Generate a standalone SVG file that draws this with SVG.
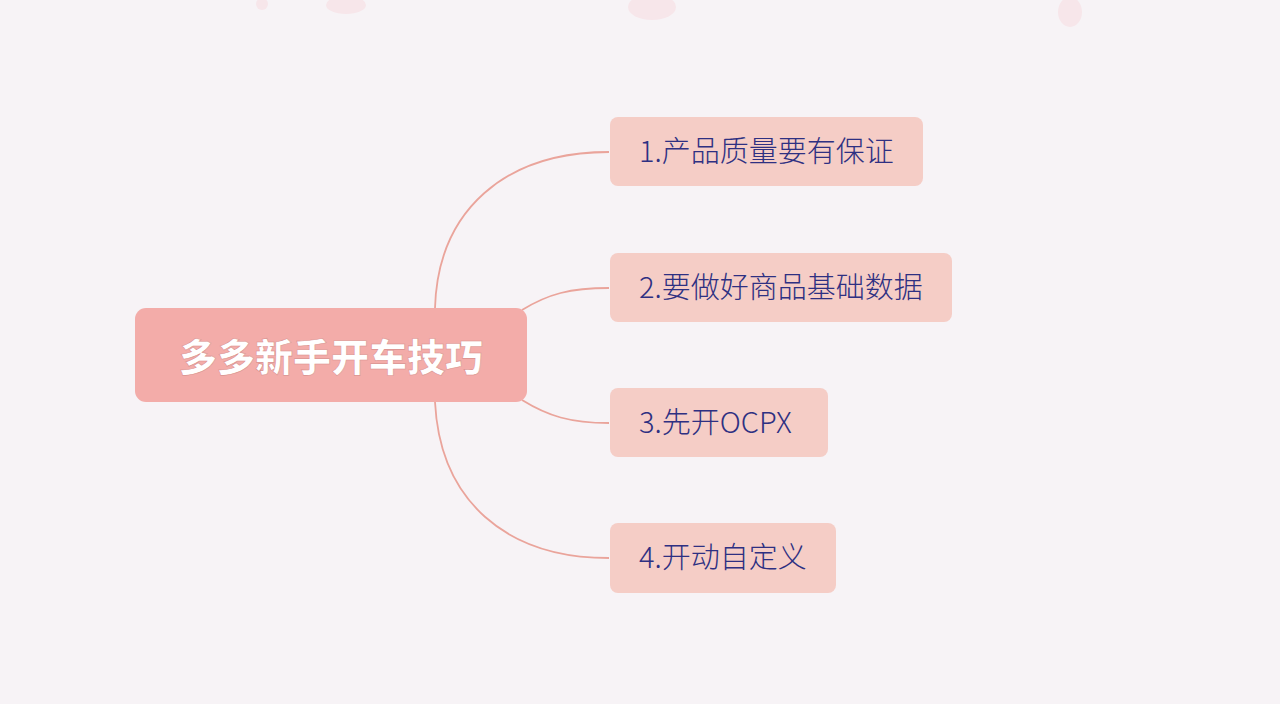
<svg xmlns="http://www.w3.org/2000/svg" width="1280" height="704" viewBox="0 0 1280 704">
  <style>
    .bg { fill: #f7f3f6; }
    .root-box { fill: #f3aca9; }
    .child-box { fill: #f5cdc6; }
    .root-text { font-family: "Noto Sans CJK SC", "Noto Sans", sans-serif; font-size: 38px; font-weight: 900; fill: #ffffff; stroke: #d98e8b; stroke-width: 0.6; text-anchor: middle; }
    .child-text { font-family: "Noto Sans CJK SC", "Noto Sans", sans-serif; font-size: 29px; font-weight: 300; fill: #2e3082; }
    .link { fill: none; stroke: #eaa49b; stroke-width: 1.8; }
    .deco { fill: #f7e6ea; }
  </style>
  <rect class="bg" x="0" y="0" width="1280" height="704"/>
  <g id="decorations">
    <ellipse class="deco" cx="262" cy="4" rx="6" ry="6"/>
    <ellipse class="deco" cx="346" cy="5" rx="20" ry="9"/>
    <ellipse class="deco" cx="652" cy="7" rx="24" ry="13"/>
    <ellipse class="deco" cx="1070" cy="12" rx="12" ry="15"/>
  </g>
  <g id="connectors">
    <path class="link" d="M435,308 C438,210 505,152 609,152"/>
    <path class="link" d="M522,310 C548,294 570,288 609,288"/>
    <path class="link" d="M522,400 C548,416 570,423 609,423"/>
    <path class="link" d="M435,402 C440,500 505,558 609,558"/>
  </g>
  <g id="root">
    <rect class="root-box" x="135" y="308" width="392" height="94" rx="11"/>
    <text class="root-text" x="331" y="371">多多新手开车技巧</text>
  </g>
  <g id="node1">
    <rect class="child-box" x="610" y="117" width="313" height="69" rx="8"/>
    <text class="child-text" x="639" y="162">1.产品质量要有保证</text>
  </g>
  <g id="node2">
    <rect class="child-box" x="610" y="253" width="342" height="69" rx="8"/>
    <text class="child-text" x="639" y="298">2.要做好商品基础数据</text>
  </g>
  <g id="node3">
    <rect class="child-box" x="610" y="388" width="218" height="69" rx="8"/>
    <text class="child-text" x="639" y="433">3.先开OCPX</text>
  </g>
  <g id="node4">
    <rect class="child-box" x="610" y="523" width="226" height="70" rx="8"/>
    <text class="child-text" x="639" y="568">4.开动自定义</text>
  </g>
</svg>
